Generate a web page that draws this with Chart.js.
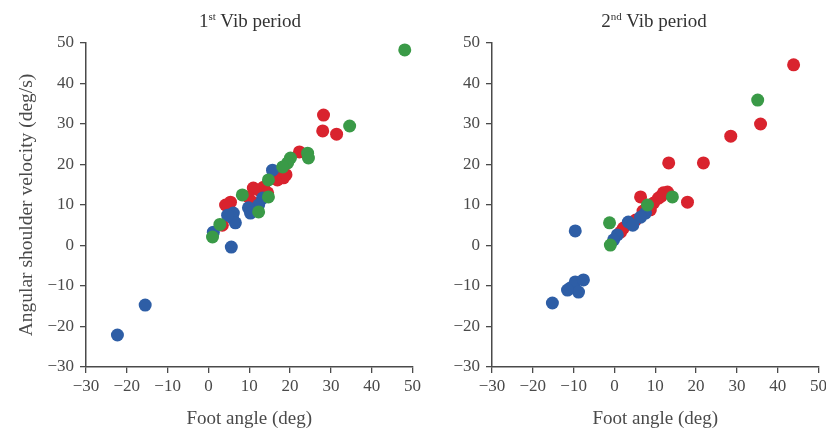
<!DOCTYPE html>
<html>
<head>
<meta charset="utf-8">
<script src="https://cdn.jsdelivr.net/npm/chart.js@4/dist/chart.umd.min.js"></script>
<style>
  body { margin: 0; background: #fff; }
  #wrap { position: relative; width: 826px; height: 430px; overflow: hidden; }
  canvas { position: absolute; top: 0; }
  .ttl { position: absolute; top: 10px; font-family: "Liberation Serif", serif; font-size: 19px; color: #333; white-space: nowrap; transform: translateX(-50%); }
  .ttl sup { font-size: 11px; }
</style>
</head>
<body>
<div id="wrap">
  <canvas id="vib1" width="424" height="430" style="left:0"></canvas>
  <canvas id="vib2" width="410" height="430" style="left:420px"></canvas>
  <div class="ttl" style="left:250px">1<sup>st</sup> Vib period</div>
  <div class="ttl" style="left:654px">2<sup>nd</sup> Vib period</div>
</div>
<script>
// axis ticks (both panels)
const axisMin = -30;
const axisMax = 50;
const axisStep = 10;

// 1st Vib period: [foot angle, shoulder velocity]
const vib1Green = [[48.1, 48.3], [34.6, 29.5], [24.3, 22.8], [24.5, 21.6], [20.1, 21.6], [19.4, 20.4],
  [18.2, 19.4], [14.7, 16.2], [14.7, 12], [8.3, 12.5], [12.3, 8.3], [2.8, 5.2], [1, 2.1]];
const vib1Blue = [[-22.3, -22.1], [-15.5, -14.7], [5.6, -0.4], [15.7, 18.6], [13.3, 11.7], [12.3, 10],
  [9.8, 9.3], [10.3, 8], [6.1, 8], [5.9, 6.8], [6.6, 5.6], [4.7, 7.5], [1.2, 3.3]];
const vib1Red = [[28.2, 32.2], [28, 28.3], [31.4, 27.5], [22.3, 23.1], [16.4, 18.1], [17.7, 17.4],
  [16.9, 16.2], [18.4, 16.7], [13.5, 14.4], [12.3, 13.7], [11, 14.2], [14.5, 13], [9.8, 12],
  [5.4, 10.7], [4.2, 10], [4.9, 9.5], [10.8, 10.7], [3.4, 5], [19, 17.5]];

// 2nd Vib period
const vib2Green = [[35.1, 35.9], [14.2, 12], [8.1, 10], [-1.2, 5.6], [-1, 0.1]];
const vib2Blue = [[-9.6, 3.6], [-15.2, -14.2], [-10.8, -10.5], [-9.6, -9], [-7.6, -8.5], [-8.8, -11.5],
  [-11.5, -11], [7.6, 8], [6.4, 7], [3.4, 5.8], [0.7, 2.6], [-0.2, 1.4], [4.5, 5]];
const vib2Red = [[43.9, 44.6], [35.8, 30], [28.5, 27], [21.8, 20.4], [17.9, 10.7], [13.3, 20.4],
  [6.4, 12], [13, 13.2], [10.8, 11.7], [12, 13], [9.6, 10.5], [8.8, 8.8], [5.2, 6.3], [2.2, 4.3],
  [1.5, 3.3], [11.5, 12.2], [7, 8.5]];

const GREEN = "#3a9a47";
const BLUE = "#2e5ea6";
const RED = "#d9232e";
const INK = "#4a4a4a";
const SERIF = "'Liberation Serif', 'DejaVu Serif', serif";

const toPts = (arr) => arr.map(p => ({ x: p[0], y: p[1] }));
const minus = (v) => (v < 0 ? "\u2212" + Math.abs(v) : "" + v);

const makeSet = (arr, color) => ({
  data: toPts(arr),
  backgroundColor: color,
  borderColor: color,
  borderWidth: 0,
  pointRadius: 6.5,
  pointHoverRadius: 6.5
});

const axisLook = {
  min: axisMin,
  max: axisMax,
  grid: { drawOnChartArea: false, drawTicks: true, tickLength: 6, color: INK, lineWidth: 1.3 },
  border: { display: true, color: INK, width: 1.5 }
};

const renderPanel = (id, green, blue, red, yWidth, showYTitle) => {
  new Chart(id, {
    type: "scatter",
    data: {
      datasets: [makeSet(green, GREEN), makeSet(blue, BLUE), makeSet(red, RED)]
    },
    options: {
      responsive: false,
      animation: false,
      layout: { padding: { left: 0, right: 4, top: 43, bottom: 0 } },
      plugins: { legend: { display: false }, tooltip: { enabled: false } },
      scales: {
        x: {
          ...axisLook,
          ticks: { stepSize: axisStep, padding: 3, color: INK, font: { family: SERIF, size: 17 }, callback: minus },
          title: { display: true, text: "Foot angle (deg)", color: INK, font: { family: SERIF, size: 19 }, padding: { top: 0, bottom: 0 } },
          afterFit: (s) => { s.height = 63; }
        },
        y: {
          ...axisLook,
          ticks: { stepSize: axisStep, padding: 6, color: INK, font: { family: SERIF, size: 17 }, callback: minus },
          title: { display: showYTitle, text: "Angular shoulder velocity (deg/s)", color: INK, font: { family: SERIF, size: 19.5 }, padding: { top: 15, bottom: 0 } },
          afterFit: (s) => { s.width = yWidth; }
        }
      }
    }
  });
};

renderPanel("vib1", vib1Green, vib1Blue, vib1Red, 86, true);
renderPanel("vib2", vib2Green, vib2Blue, vib2Red, 72, false);
</script>
</body>
</html>
